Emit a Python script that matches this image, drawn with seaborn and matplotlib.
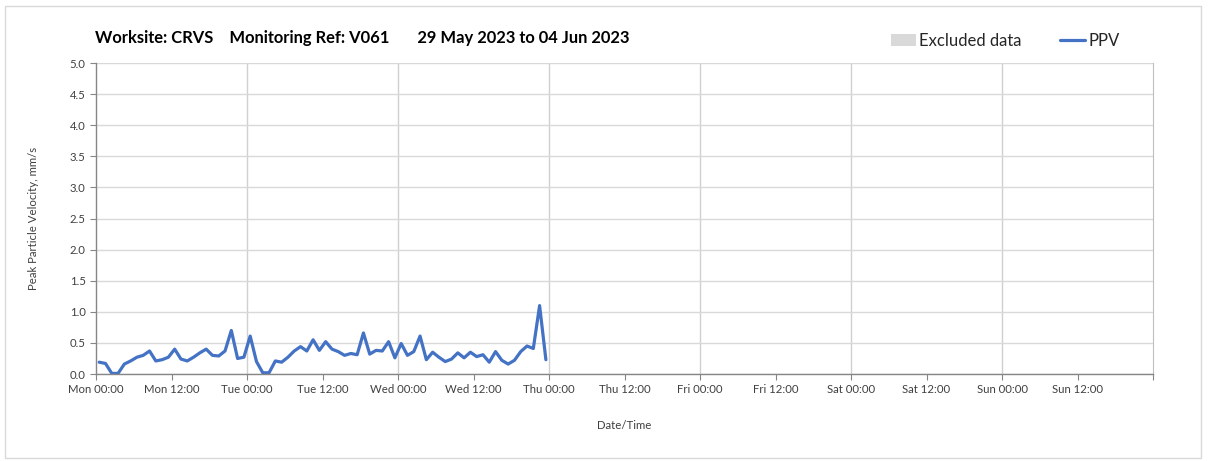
import matplotlib
matplotlib.use("Agg")
import matplotlib.pyplot as plt
import matplotlib.dates as mdates
from matplotlib.patches import Patch, Rectangle
from matplotlib.lines import Line2D
from matplotlib.ticker import FuncFormatter
import seaborn as sns
import pandas as pd

# hourly PPV readings (mm/s), first reading at Mon 00:30
start = "2023-05-29 00:30"
ppv = [0.19, 0.17, 0.01, 0.01, 0.16, 0.21, 0.27, 0.30, 0.37, 0.21, 0.23, 0.27,
       0.40, 0.24, 0.21, 0.27, 0.34, 0.40, 0.30, 0.29, 0.37, 0.70, 0.25, 0.27,
       0.61, 0.20, 0.02, 0.02, 0.21, 0.19, 0.27, 0.37, 0.44, 0.37, 0.55, 0.38,
       0.52, 0.40, 0.36, 0.30, 0.33, 0.31, 0.66, 0.32, 0.38, 0.37, 0.52, 0.26,
       0.49, 0.30, 0.36, 0.61, 0.23, 0.35, 0.27, 0.20, 0.24, 0.34, 0.26, 0.35,
       0.28, 0.31, 0.19, 0.36, 0.22, 0.16, 0.22, 0.36, 0.45, 0.41, 1.10, 0.23]
week_start = pd.Timestamp("2023-05-29 00:00")
week_end = pd.Timestamp("2023-06-05 00:00")
title = "Worksite: CRVS    Monitoring Ref: V061       29 May 2023 to 04 Jun 2023"

df = pd.DataFrame({"time": pd.date_range(start, periods=len(ppv), freq="h"), "ppv": ppv})

sns.set_style("white")
plt.rcParams["font.family"] = ["Lato", "DejaVu Sans"]

fig = plt.figure(figsize=(12.08, 4.61), dpi=100)
ax = fig.add_axes([0.0795, 0.1887, 0.875, 0.6746])

sns.lineplot(data=df, x="time", y="ppv", ax=ax, color="#4472C4", linewidth=2.3)

ax.set_xlim(week_start, week_end)
ax.set_ylim(0, 5.0)
ax.set_yticks([i * 0.5 for i in range(11)])
ax.yaxis.set_major_formatter(FuncFormatter(lambda v, p: f"{v:.1f}"))

ax.xaxis.set_major_locator(mdates.HourLocator(byhour=[0, 12]))
def fmt_x(v, p):
    d = mdates.num2date(v).replace(tzinfo=None)
    if d >= week_end.to_pydatetime():
        return ""
    return d.strftime("%a %H:%M")
ax.xaxis.set_major_formatter(FuncFormatter(fmt_x))

ax.grid(axis="y", color="#d9d9d9", linewidth=1.0)
for day in pd.date_range(week_start, week_end, freq="D")[1:-1]:
    ax.axvline(day, color="#d0d0d0", linewidth=1.0, zorder=0)

ax.spines["top"].set_visible(False)
ax.spines["right"].set_color("#bfbfbf")
for s in ["left", "bottom"]:
    ax.spines[s].set_color("#868686")
    ax.spines[s].set_linewidth(1.0)
ax.tick_params(axis="both", length=4, color="#868686", labelsize=8.2,
               labelcolor="#404040", direction="out", left=True, bottom=True)

ax.set_xlabel("Date/Time", fontsize=8.2, color="#404040", labelpad=18)
ax.set_ylabel("Peak Particle Velocity, mm/s", fontsize=8.2, color="#404040", labelpad=22)

fig.text(0.0785, 0.918, title, fontsize=11.9, fontweight="bold", color="black",
         ha="left", va="center")

handles = [Patch(facecolor="#d9d9d9", edgecolor="none", label="Excluded data"),
           Line2D([], [], color="#4472C4", linewidth=2.3, label="PPV")]
fig.legend(handles=handles, loc="center left", bbox_to_anchor=(0.725, 0.911), ncol=2,
           frameon=False, fontsize=12, handlelength=1.5, handletextpad=0.2,
           columnspacing=2.3)

fig.add_artist(Rectangle((0.004, 0.006), 0.99, 0.981, transform=fig.transFigure,
                         fill=False, edgecolor="#d9d9d9", linewidth=1.0))

fig.savefig("out.png", dpi=100)
